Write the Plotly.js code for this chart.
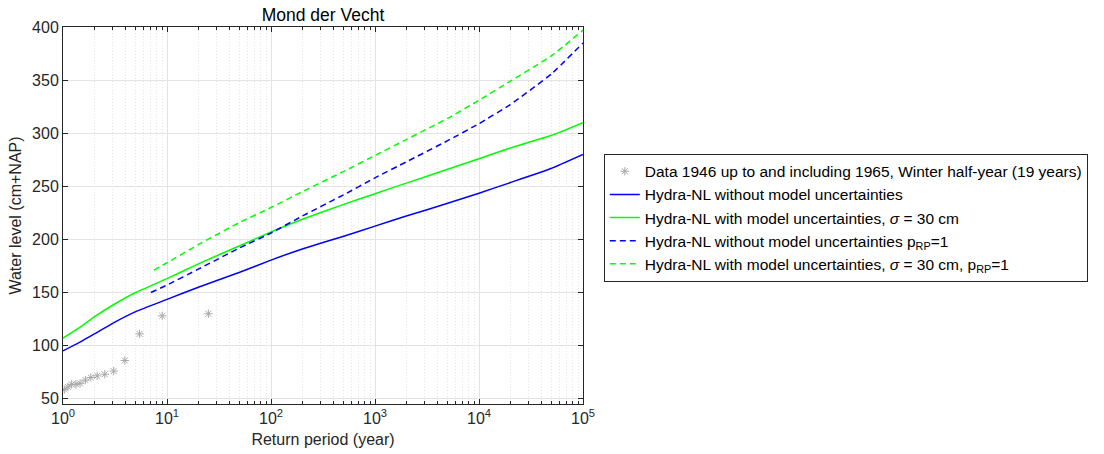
<!DOCTYPE html>
<html>
<head>
<meta charset="utf-8">
<script src="https://cdn.plot.ly/plotly-3.0.1.min.js"></script>
<style>html,body{margin:0;padding:0;background:#fff;}#chart{width:1104px;height:454px;}</style>
</head>
<body>
<div id="chart"></div>
<script>
// Observed data (return period in years, water level in cm+NAP)
const obsT = [25, 9.0, 5.45, 3.93, 3.07, 2.52, 2.13, 1.85, 1.64, 1.46, 1.33, 1.21, 1.115, 1.03];
const obsH = [130, 128, 111, 86, 76, 73, 71.5, 70, 67.5, 64.5, 63.5, 63.5, 61, 58.5];

// Hydra-NL without model uncertainties
const hT = [1, 1.5, 2, 3, 5, 10, 20, 50, 100, 200, 500, 1000, 2000, 5000, 10000, 20000, 50000, 100000];
const hNoUnc = [95, 104, 111, 121, 132, 143.5, 155, 169, 180.5, 191, 203, 212.5, 222, 234, 243.5, 253.5, 267, 280];
// Hydra-NL with model uncertainties, sigma = 30 cm
const hWithUnc = [107, 118, 127, 138, 150, 163, 177, 194, 207, 219, 233, 243, 253, 266, 276, 286, 298, 310];

// p_RP = 1 variants
const pT = [7, 10, 20, 50, 100, 200, 500, 1000, 2000, 5000, 10000, 20000, 50000, 100000];
const pNoUnc = [150, 157, 172, 192, 206, 222, 242, 258, 273, 293, 309, 327, 356, 385];
const pTg = [7.5, 10, 20, 50, 100, 200, 500, 1000, 2000, 5000, 10000, 20000, 50000, 100000];
const pWithUnc = [171, 178, 195, 216, 230, 245, 264, 279, 294, 314, 331, 349, 373, 397];

const xTickVals = [1, 10, 100, 1000, 10000, 100000];
const xTickText = ['10<sup>0</sup>', '10<sup>1</sup>', '10<sup>2</sup>', '10<sup>3</sup>', '10<sup>4</sup>', '10<sup>5</sup>'];

const FONT = 'Liberation Sans, Arial, Helvetica, sans-serif';

const traces = [
  {x: obsT, y: obsH, mode: 'markers', type: 'scatter',
   name: 'Data 1946 up to and including 1965, Winter half-year (19 years)',
   marker: {symbol: 'asterisk-open', size: 7, color: '#a8a8a8', line: {color: '#a8a8a8', width: 1}}},
  {x: hT, y: hNoUnc, mode: 'lines', type: 'scatter',
   name: 'Hydra-NL without model uncertainties',
   line: {color: '#0000ff', width: 1.5, shape: 'spline', smoothing: 0.4}},
  {x: hT, y: hWithUnc, mode: 'lines', type: 'scatter',
   name: 'Hydra-NL with model uncertainties, <i>σ</i> = 30 cm',
   line: {color: '#00ff00', width: 1.5, shape: 'spline', smoothing: 0.4}},
  {x: pT, y: pNoUnc, mode: 'lines', type: 'scatter',
   name: 'Hydra-NL without model uncertainties p<sub>RP</sub>=1',
   line: {color: '#0000ff', width: 1.5, dash: '6px,4px', shape: 'spline', smoothing: 0.4}},
  {x: pTg, y: pWithUnc, mode: 'lines', type: 'scatter',
   name: 'Hydra-NL with model uncertainties, <i>σ</i> = 30 cm, p<sub>RP</sub>=1',
   line: {color: '#00ff00', width: 1.5, dash: '6px,4px', shape: 'spline', smoothing: 0.4}}
];

const layout = {
  width: 1104, height: 454,
  margin: {l: 63, r: 521, t: 27, b: 50, pad: 0},
  paper_bgcolor: '#ffffff', plot_bgcolor: '#ffffff',
  font: {family: FONT, color: '#262626', size: 16},
  showlegend: true,
  title: {text: 'Mond der Vecht', x: 0.2926, xanchor: 'center', y: 0.968, yanchor: 'middle',
          font: {family: FONT, size: 17.5, color: '#000000'}},
  xaxis: {
    type: 'log', range: [0, 5], autorange: false,
    tickvals: xTickVals, ticktext: xTickText,
    ticks: 'inside', ticklen: 5, tickcolor: '#262626',
    showline: true, linecolor: '#262626', linewidth: 1, mirror: 'ticks',
    showgrid: true, gridcolor: '#e3e3e3', gridwidth: 1,
    zeroline: false,
    tickfont: {family: FONT, size: 16, color: '#262626'},
    title: {text: 'Return period (year)', font: {family: FONT, size: 16, color: '#262626'}, standoff: 7},
    minor: {dtick: 'D1', showgrid: true, gridcolor: '#e6e6e6', griddash: '1px,2px', gridwidth: 1,
            ticks: 'inside', ticklen: 3, tickcolor: '#262626'}
  },
  yaxis: {
    range: [45, 400], autorange: false,
    tick0: 50, dtick: 50,
    ticks: 'inside', ticklen: 5, tickcolor: '#262626',
    showline: true, linecolor: '#262626', linewidth: 1, mirror: 'ticks',
    showgrid: true, gridcolor: '#e3e3e3', gridwidth: 1,
    zeroline: false,
    tickfont: {family: FONT, size: 16, color: '#262626'},
    title: {text: 'Water level (cm+NAP)', font: {family: FONT, size: 16, color: '#262626'}, standoff: 6}
  },
  legend: {
    x: 1.04, xanchor: 'left', y: 0.664, yanchor: 'top',
    bgcolor: '#ffffff', bordercolor: '#262626', borderwidth: 1,
    font: {family: FONT, size: 15.5, color: '#000000'},
    itemwidth: 30, tracegroupgap: 0
  }
};

Plotly.newPlot('chart', traces, layout, {displayModeBar: false, staticPlot: true});
</script>
</body>
</html>
